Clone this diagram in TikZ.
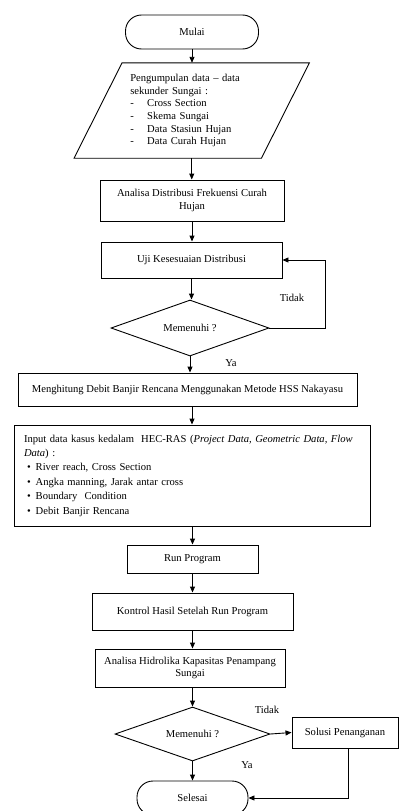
\documentclass[tikz,border=0pt]{standalone}
\usepackage{fontspec}
\setmainfont{Liberation Serif}
\usetikzlibrary{shapes.geometric,arrows.meta}
\begin{document}
\begin{tikzpicture}[x=1pt,y=-1pt,
  every node/.style={font=\fontsize{10.6}{12.7}\selectfont},
  box/.style={draw,line width=0.9pt,inner sep=0pt,align=center},
  term/.style={box,rounded corners=16pt},
  dia/.style={draw,line width=0.9pt,diamond,inner sep=0pt,aspect=2.8},
  arr/.style={line width=0.9pt,-{Triangle[length=6pt,width=5pt]}},
  lbl/.style={inner sep=0pt}]
\useasboundingbox (0,0) rectangle (399,811);
\node[term,minimum width=133,minimum height=34] (mulai) at (192,32) {Mulai};
\node[inner sep=0pt,minimum width=187,minimum height=95,text width=123pt,align=left] (data) at (191.75,110.5)
 {\makebox[123pt][s]{Pengumpulan data -- data}\\
  sekunder Sungai :\\
  \makebox[17pt][l]{-}Cross Section\\
  \makebox[17pt][l]{-}Skema Sungai\\
  \makebox[17pt][l]{-}Data Stasiun Hujan\\
  \makebox[17pt][l]{-}Data Curah Hujan};
\draw[line width=0.9pt] ([xshift=24]data.north west) -- ([xshift=24]data.north east)
  -- ([xshift=-24]data.south east) -- ([xshift=-24]data.south west) -- cycle;
\node[box,minimum width=184,minimum height=41] (analisa) at (192,200.5) {Analisa Distribusi Frekuensi Curah\\Hujan};
\node[box,minimum width=181,minimum height=36] (uji) at (191.5,260) {Uji Kesesuaian Distribusi};
\node[dia,minimum width=158,minimum height=56] (d1) at (190,328) {Memenuhi ?};
\node[box,minimum width=339,minimum height=33] (hitung) at (187.5,389.5) {Menghitung Debit Banjir Rencana Menggunakan Metode HSS Nakayasu};
\node[draw,line width=0.9pt,minimum width=356,minimum height=101,inner xsep=10pt,inner ysep=0pt,text width=336pt,align=left,
  font=\fontsize{10.6}{14.4}\selectfont] (input) at (192,475.5)
 {\mbox{Input data kasus kedalam\ \ HEC-RAS (\textit{Project Data, Geometric Data, Flow}}\\
  \textit{Data}) :\\
  \hspace*{3pt}\textbullet\hspace{5pt}River reach, Cross Section\\
  \hspace*{3pt}\textbullet\hspace{5pt}Angka manning, Jarak antar cross\\
  \hspace*{3pt}\textbullet\hspace{5pt}Boundary\ \ Condition\\
  \hspace*{3pt}\textbullet\hspace{5pt}Debit Banjir Rencana};
\node[box,minimum width=131,minimum height=28] (run) at (192.5,559) {Run Program};
\node[box,minimum width=201,minimum height=37] (kontrol) at (192.5,611.5) {Kontrol Hasil Setelah Run Program};
\node[box,minimum width=190,minimum height=38] (hidro) at (190,668) {Analisa Hidrolika Kapasitas Penampang\\Sungai};
\node[dia,minimum width=155,minimum height=54] (d2) at (192.5,734) {Memenuhi ?};
\node[box,minimum width=106,minimum height=31] (solusi) at (345,732.5) {Solusi Penanganan};
\node[term,minimum width=111,minimum height=34] (selesai) at (192.5,798) {Selesai};
% connectors
\draw[arr] (mulai.south) -- (mulai.south |- data.north);
\draw[arr] (data.south) -- (data.south |- analisa.north);
\draw[arr] (analisa.south) -- (analisa.south |- uji.north);
\draw[arr] (uji.south) -- (uji.south |- d1.north);
\draw[arr] (d1.east) -- ++(56,0) |- (uji.east);
\draw[arr] (d1.south) -- (d1.south |- hitung.north);
\draw[arr] (hitung.south -| input.north) -- (input.north);
\draw[arr] (input.south -| run.north) -- (run.north);
\draw[arr] (run.south) -- (run.south |- kontrol.north);
\draw[arr] (kontrol.south) -- (kontrol.south |- hidro.north);
\draw[arr] (hidro.south -| d2.north) -- (d2.north);
\draw[arr] (d2.east) -- (solusi.west);
\draw[arr] (d2.south) -- (selesai.north);
\draw[arr] ([xshift=3]solusi.south) |- (selesai.east);
% labels
\node[lbl] (t1) at (292,298) {Tidak};
\node[lbl] (y1) at (231,363) {Ya};
\node[lbl] (t2) at (267,710) {Tidak};
\node[lbl] (y2) at (247,765) {Ya};
\end{tikzpicture}
\end{document}
